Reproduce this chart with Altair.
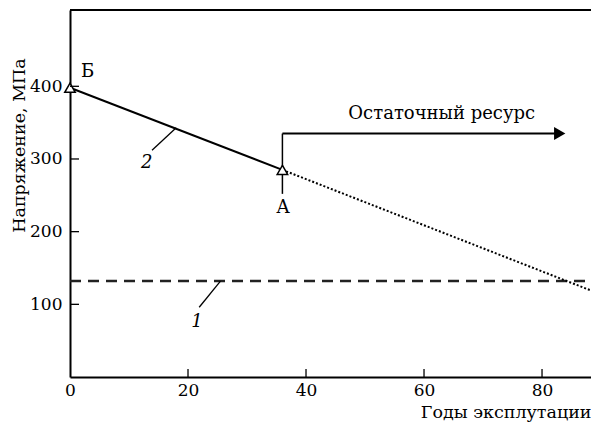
import altair as alt
import pandas as pd

FONT = "DejaVu Serif"
FS = 18
LFS = 17
TFS = 17.5
W, H = 521, 367
X_MAX, Y_MAX = 88.3, 505

# data
solid_years = [0, 36]
solid_stress = [398, 285]
dotted_years = [36, 88.3]
dotted_stress = [285, 119]
limit_years = [0, 88.3]
limit_stress = [132, 132]
point_years = [0, 36]
point_stress = [398, 285]
letter_names = ["Б", "А"]
letter_years = [3.0, 36.1]
letter_stress = [420, 232]
resource_start = 36
resource_end = 83
resource_level = 335
resource_low = 252
resource_text = "Остаточный ресурс"
resource_text_x = 63
resource_text_y = 362
curve_names = ["2", "1"]
curve_label_x = [13.0, 21.5]
curve_label_y = [294, 75]
leader_x = [13.9, 21.9]
leader_y = [312, 96]
leader_x2 = [18.0, 25.5]
leader_y2 = [343, 132]
x_ticks = [0, 20, 40, 60, 80]
y_ticks = [100, 200, 300, 400]

xscale = alt.Scale(domain=[0, X_MAX], nice=False, zero=False)
yscale = alt.Scale(domain=[0, Y_MAX], nice=False, zero=False)

xaxis = alt.Axis(values=x_ticks, ticks=False, grid=False, domainColor="black",
                 domainWidth=2, labelFont=FONT, labelFontSize=LFS, labelColor="black",
                 labelPadding=5, labelFlush=False, title="Годы эксплутации",
                 titleFont=FONT, titleFontSize=TFS, titleFontWeight="normal",
                 titleColor="black", titleX=W, titleY=35, titleAlign="right",
                 titleBaseline="middle")
yaxis = alt.Axis(values=y_ticks, ticks=False, grid=False, domainColor="black",
                 domainWidth=2, labelFont=FONT, labelFontSize=LFS, labelColor="black",
                 labelPadding=8, labelFlush=False, title="Напряжение, МПа",
                 titleFont=FONT, titleFontSize=TFS, titleFontWeight="normal",
                 titleColor="black", titleX=-51, titleY=135, titleAngle=270,
                 titleAlign="center", titleBaseline="middle")

X = alt.X("x:Q", scale=xscale, axis=xaxis)
Y = alt.Y("y:Q", scale=yscale, axis=yaxis)

solid = alt.Chart(pd.DataFrame({"x": solid_years, "y": solid_stress})).mark_line(
    color="black", strokeWidth=2).encode(x=X, y=Y)
dotted = alt.Chart(pd.DataFrame({"x": dotted_years, "y": dotted_stress})).mark_line(
    color="black", strokeWidth=2, strokeDash=[2, 2], clip=True).encode(x=X, y=Y)
limit = alt.Chart(pd.DataFrame({"x": limit_years, "y": limit_stress})).mark_line(
    color="#222", strokeWidth=2.5, strokeDash=[11, 7]).encode(x=X, y=Y)

vert = alt.Chart(pd.DataFrame({"x": [resource_start], "y": [resource_low],
                               "y2": [resource_level]})).mark_rule(
    color="black", strokeWidth=1.5).encode(x=X, y=Y, y2="y2:Q")
arrow = alt.Chart(pd.DataFrame({"x": [resource_start], "x2": [resource_end],
                                "y": [resource_level]})).mark_rule(
    color="black", strokeWidth=2).encode(x=X, x2="x2:Q", y=Y)
head = alt.Chart(pd.DataFrame({"x": [resource_end], "y": [resource_level]})).mark_point(
    shape="triangle-right", filled=True, color="black", size=170, opacity=1).encode(x=X, y=Y)

pts = alt.Chart(pd.DataFrame({"x": point_years, "y": point_stress})).mark_point(
    shape="triangle-up", filled=True, fill="white", stroke="black", strokeWidth=1.5,
    size=110, opacity=1).encode(x=X, y=Y)

letters = alt.Chart(pd.DataFrame({"x": letter_years, "y": letter_stress,
                                  "t": letter_names})).mark_text(
    font=FONT, fontSize=FS, color="black", align="center", baseline="middle").encode(
    x=X, y=Y, text="t:N")
restext = alt.Chart(pd.DataFrame({"x": [resource_text_x], "y": [resource_text_y],
                                  "t": [resource_text]})).mark_text(
    font=FONT, fontSize=FS, color="black", align="center", baseline="middle").encode(
    x=X, y=Y, text="t:N")
leaders = alt.Chart(pd.DataFrame({"x": leader_x, "y": leader_y, "x2": leader_x2,
                                  "y2": leader_y2})).mark_rule(
    color="black", strokeWidth=1.3).encode(x=X, y=Y, x2="x2:Q", y2="y2:Q")
curve_labels = alt.Chart(pd.DataFrame({"x": curve_label_x, "y": curve_label_y,
                                       "t": curve_names})).mark_text(
    font=FONT, fontSize=FS, fontStyle="italic", color="black", align="center",
    baseline="middle").encode(x=X, y=Y, text="t:N")

xt = alt.Chart(pd.DataFrame({"x": x_ticks[1:]})).mark_rule(
    color="black", strokeWidth=1.3).encode(x=X, y=alt.value(H), y2=alt.value(H - 8))
yt = alt.Chart(pd.DataFrame({"y": y_ticks})).mark_rule(
    color="black", strokeWidth=1.3).encode(y=Y, x=alt.value(0), x2=alt.value(9))
top = alt.Chart(pd.DataFrame({"a": [0]})).mark_rule(color="black", strokeWidth=2).encode(
    x=alt.value(0), x2=alt.value(W), y=alt.value(0))

chart = alt.layer(limit, dotted, solid, vert, arrow, head, pts, letters, restext,
                  leaders, curve_labels, xt, yt, top).properties(
    width=W, height=H, autosize="none",
    padding={"left": 62, "top": 2, "right": 0, "bottom": 47},
).configure_view(stroke=None)

chart.save("out.html", embed_options={"renderer": "svg", "actions": False})
